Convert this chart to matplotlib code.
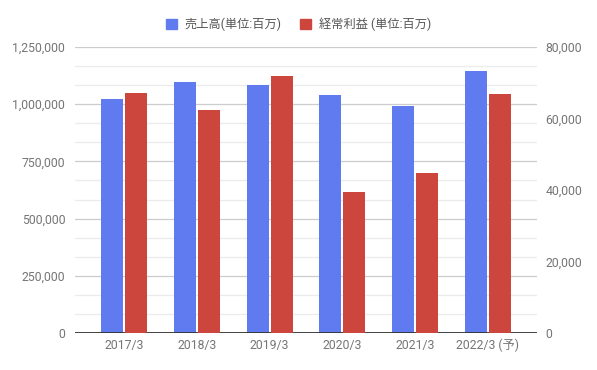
import matplotlib.pyplot as plt
from matplotlib.patches import Patch
from matplotlib.ticker import FuncFormatter, MultipleLocator

plt.rcParams['font.family'] = ['Roboto', 'Noto Sans CJK JP', 'DejaVu Sans']

years = ['2017/3', '2018/3', '2019/3', '2020/3', '2021/3', '2022/3 (予)']
sales = [1022000, 1096000, 1084000, 1040000, 992000, 1145000]
profit = [67050, 62400, 71900, 39400, 44700, 66850]

sales_label = '売上高(単位:百万)'
profit_label = '経常利益 (単位:百万)'

blue = '#5f7bef'
red = '#cc463d'
grey_text = '#757575'

fig = plt.figure(figsize=(5.97, 3.70), dpi=100)
ax = fig.add_axes([75 / 597, 37 / 370, 462 / 597, 286 / 370])
ax2 = ax.twinx()

x = list(range(len(years)))
w = 0.30
off = 0.165
ax.bar([i - off for i in x], sales, width=w, color=blue, zorder=3)
ax2.bar([i + off for i in x], profit, width=w, color=red, zorder=3)

ax.set_xlim(-0.675, len(years) - 0.325)
ax.set_ylim(0, 1250000)
ax2.set_ylim(0, 80000)

ax.yaxis.set_major_locator(MultipleLocator(250000))
ax.yaxis.set_minor_locator(MultipleLocator(250000 / 3))
ax2.yaxis.set_major_locator(MultipleLocator(20000))
fmt = FuncFormatter(lambda v, p: f'{int(v):,}')
ax.yaxis.set_major_formatter(fmt)
ax2.yaxis.set_major_formatter(fmt)

ax.grid(axis='y', which='major', color='#cccccc', linewidth=0.9, zorder=0)
ax.grid(axis='y', which='minor', color='#ebebeb', linewidth=0.9, zorder=0)
ax.set_axisbelow(True)

ax.set_xticks(x)
ax.set_xticklabels(years)
for a in (ax, ax2):
    for s in a.spines.values():
        s.set_visible(False)
    a.tick_params(which='both', length=0, labelsize=8.8, labelcolor=grey_text)
ax.tick_params(axis='y', pad=7)
ax.tick_params(axis='x', pad=4)
ax2.tick_params(axis='y', pad=6)
ax.axhline(0, color='#333333', linewidth=1.3, zorder=4)

handles = [Patch(color=blue, label=sales_label), Patch(color=red, label=profit_label)]
fig.legend(handles=handles, loc='center', bbox_to_anchor=(0.5, 0.935), ncol=2,
           frameon=False, fontsize=8.8, handlelength=0.92, handleheight=0.92,
           handletextpad=0.65, columnspacing=1.5, labelcolor='#555555')

plt.savefig('out.png', dpi=100)
